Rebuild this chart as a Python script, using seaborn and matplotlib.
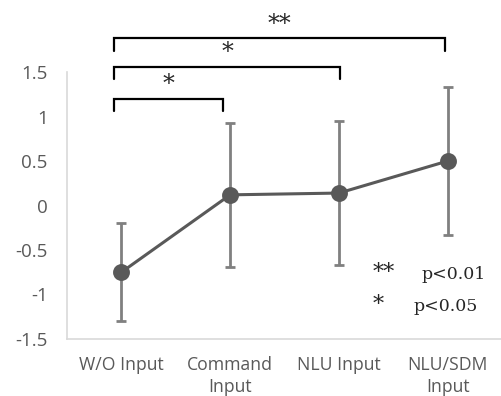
import matplotlib.pyplot as plt
import numpy as np
import seaborn as sns

conditions = ["W/O Input", "Command\nInput", "NLU Input", "NLU/SDM\nInput"]
means = [-0.75, 0.12, 0.14, 0.50]
sds = [0.55, 0.81, 0.81, 0.83]

# significance brackets: (start, end, height, label)
bracket_start = [-0.065, -0.065, -0.065]
bracket_end = [0.93, 2.01, 2.98]
bracket_top = [1.20, 1.56, 1.88]
bracket_label = ["*", "*", "**"]
leg_drop = 0.14

legend_marks = ["**", "*"]
legend_texts = ["p<0.01", "p<0.05"]

sns.set_style("white")
fig = plt.figure(figsize=(5.02, 3.96), dpi=100)
ax = fig.add_axes([0.1335, 0.144, 0.8665, 0.856])

x = np.arange(len(conditions))
ax.errorbar(x, means, yerr=sds, fmt="none", ecolor="#808080", elinewidth=2,
            capsize=3.5, capthick=2, zorder=2)
sns.pointplot(x=conditions, y=means, color="#595959", markers="o",
              linewidth=2.2, markersize=10.5, errorbar=None, ax=ax, zorder=3)

ax.set_xlim(-0.5, 3.5)
ax.set_ylim(-1.5, 2.31)
ax.set_yticks([-1.5, -1, -0.5, 0, 0.5, 1, 1.5])
ax.set_yticklabels(["-1.5", "-1", "-0.5", "0", "0.5", "1", "1.5"])
ax.set_xticks(x)
ax.set_xticklabels(conditions)
ax.set_xticks([-0.5, 0.5, 1.5, 2.5, 3.5], minor=True)

for side in ["top", "right"]:
    ax.spines[side].set_visible(False)
ax.spines["left"].set_bounds(-1.5, 1.5)
ax.spines["left"].set_color("#d9d9d9")
ax.spines["bottom"].set_color("#d9d9d9")
ax.spines["left"].set_linewidth(1.2)
ax.spines["bottom"].set_linewidth(1.2)

ax.tick_params(axis="x", which="major", length=0, labelsize=12.7,
               labelcolor="#595959", pad=12)
ax.tick_params(axis="x", which="minor", length=5, color="#d9d9d9", width=1.2,
               direction="out")
ax.tick_params(axis="y", length=5, color="#d9d9d9", width=1.2, direction="out",
               labelsize=13.5, labelcolor="#595959", pad=9)
for lab in ax.get_xticklabels() + ax.get_yticklabels():
    lab.set_family("Open Sans")
for lab in ax.get_xticklabels():
    lab.set_linespacing(1.3)
    lab.set_va("top")

for s, e, top, lab in zip(bracket_start, bracket_end, bracket_top, bracket_label):
    ax.plot([s, s, e, e], [top - leg_drop, top, top, top - leg_drop],
            color="black", lw=1.6, clip_on=False, solid_joinstyle="miter")
    ax.text((s + e) / 2, top + 0.03, lab, ha="center", va="bottom",
            fontsize=17, family="DejaVu Serif")

legend_x = [2.76, 2.69]
legend_y = [-0.78, -1.14]
for i, (m, t) in enumerate(zip(legend_marks, legend_texts)):
    ax.text(2.31, legend_y[i] + 0.02, m, ha="left", va="center", fontsize=16,
            family="DejaVu Serif")
    ax.text(legend_x[i], legend_y[i], t, ha="left", va="center",
            fontsize=12.5, family="DejaVu Serif")

fig.savefig("out.png", dpi=100)
